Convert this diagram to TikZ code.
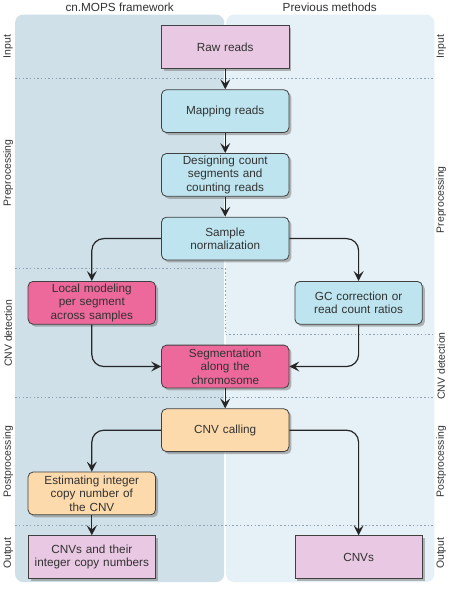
\documentclass[tikz,border=0pt]{standalone}
\usepackage{fontspec}
\setmainfont{Liberation Sans}
\usetikzlibrary{arrows.meta,shadows}
\definecolor{leftpanel}{RGB}{207,224,233}
\definecolor{rightpanel}{RGB}{230,241,247}
\definecolor{rawpink}{RGB}{232,200,226}
\definecolor{stepcyan}{RGB}{190,229,239}
\definecolor{steprose}{RGB}{237,105,155}
\definecolor{steporange}{RGB}{253,218,172}
\definecolor{sepline}{RGB}{140,162,178}
\definecolor{txt}{RGB}{50,50,50}
\begin{document}
\begin{tikzpicture}[x=1pt,y=-1pt,
  font=\fontsize{11.8}{13.6}\selectfont, text=txt,
  box/.style={draw=black!75, line width=0.8pt, minimum width=128pt, minimum height=43pt,
    text width=124pt, align=center, inner sep=2pt,
    drop shadow={shadow xshift=2.5pt, shadow yshift=-2.5pt, opacity=0.55}},
  ioblock/.style={box, fill=rawpink},
  prep/.style={box, rounded corners=5pt, fill=stepcyan},
  detect/.style={box, rounded corners=5pt, fill=steprose},
  post/.style={box, rounded corners=5pt, fill=steporange},
  arr/.style={draw=black!85, line width=1.2pt, rounded corners=12pt,
    -{Stealth[length=10pt,width=10pt,inset=4pt]}},
  sep/.style={draw=sepline, line width=0.8pt, dash pattern=on 1.5pt off 2.2pt},
  side/.style={rotate=90, font=\fontsize{10.5}{12}\selectfont}]
\fill[white] (0,0) rectangle (448,591);
\fill[leftpanel, rounded corners=8pt] (14,12) rectangle (224,582);
\fill[rightpanel, rounded corners=8pt] (226,12) rectangle (435,582);
\node at (119,5) {cn.MOPS framework};
\node at (330,5) {Previous methods};
\draw[sep] (14,76) -- (435,76);
\draw[sep] (14,267) -- (225,267) -- (225,333) -- (435,333);
\draw[sep] (14,397) -- (435,397);
\draw[sep] (14,525) -- (435,525);
\node[side] (linput) at (7,44) {Input};
\node[side] (lprep) at (7,171) {Preprocessing};
\node[side] (ldetect) at (7,332) {CNV detection};
\node[side] (lpost) at (7,461) {Postprocessing};
\node[side] (lout) at (7,553) {Output};
\node[side] (rinput) at (442,44) {Input};
\node[side] (rprep) at (442,198) {Preprocessing};
\node[side] (rdetect) at (442,365) {CNV detection};
\node[side] (rpost) at (442,461) {Postprocessing};
\node[side] (rout) at (442,553) {Output};
\node[ioblock] (raw) at (225,44.5) {Raw reads};
\node[prep] (map) at (225,109) {Mapping reads};
\node[prep] (design) at (225,173) {Designing count\\segments and\\counting reads};
\node[prep] (sample) at (225,237) {Sample\\normalization};
\node[detect] (local) at (91,301.5) {Local modeling\\per segment\\across samples};
\node[prep] (gc) at (359,301.5) {GC correction or\\read count ratios};
\node[detect] (seg) at (225,365.5) {Segmentation\\along the\\chromosome};
\node[post] (call) at (225,429.5) {CNV calling};
\node[post] (est) at (91,493) {Estimating integer\\copy number of\\the CNV};
\node[ioblock] (cnvint) at (91,557) {CNVs and their\\integer copy numbers};
\node[ioblock] (cnvs) at (359,557) {CNVs};
\draw[arr] (raw) -- (map);
\draw[arr] (map) -- (design);
\draw[arr] (design) -- (sample);
\draw[arr] (sample.west) -| (local.north);
\draw[arr] (sample.east) -| (gc.north);
\draw[arr] (local.south) |- (seg.west);
\draw[arr] (gc.south) |- (seg.east);
\draw[arr] (seg) -- (call);
\draw[arr] (call.west) -| (est.north);
\draw[arr] (call.east) -| (cnvs.north);
\draw[arr] (est) -- (cnvint);
\end{tikzpicture}
\end{document}
